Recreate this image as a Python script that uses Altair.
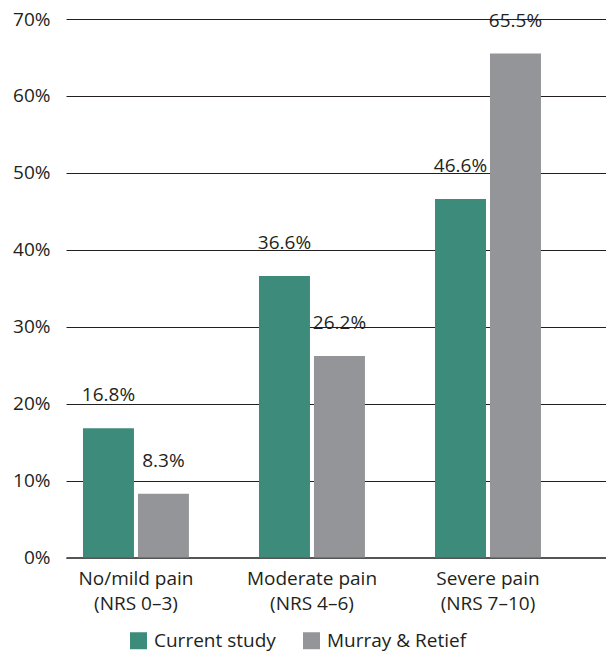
import altair as alt
import pandas as pd

# Pain-severity groups (two-line axis labels split on "|")
categories = ["No/mild pain|(NRS 0–3)", "Moderate pain|(NRS 4–6)", "Severe pain|(NRS 7–10)"]
series = ["Current study", "Murray & Retief"]
current_study = [16.8, 36.6, 46.6]
murray_retief = [8.3, 26.2, 65.5]
y_ticks = [0, 10, 20, 30, 40, 50, 60, 70]

colors = ["#3d8b7a", "#939598"]
font = "Open Sans"
ink = "#231f20"

rows = []
for cat, a, b in zip(categories, current_study, murray_retief):
    rows.append({"group": cat, "series": series[0], "value": a})
    rows.append({"group": cat, "series": series[1], "value": b})
df = pd.DataFrame(rows)

x_enc = alt.X(
    "group:N",
    sort=categories,
    scale=alt.Scale(paddingInner=0.398, paddingOuter=0.233, align=0.207),
    axis=alt.Axis(
        title=None,
        labelExpr="split(datum.label, '|')",
        labelAngle=0,
        labelFont=font,
        labelFontSize=19,
        labelColor=ink,
        labelLineHeight=25,
        labelPadding=12,
        ticks=False,
        domain=True,
        domainColor="#555555",
        domainWidth=2,
        grid=False,
    ),
)
xoff_enc = alt.XOffset(
    "series:N",
    sort=series,
    scale=alt.Scale(paddingInner=0.0727, paddingOuter=0),
)
y_enc = alt.Y(
    "value:Q",
    scale=alt.Scale(domain=[0, 70], nice=False),
    axis=alt.Axis(
        title=None,
        values=y_ticks,
        labelExpr="datum.value + '%'",
        labelFont=font,
        labelFontSize=19,
        labelColor=ink,
        labelPadding=16,
        ticks=False,
        domain=False,
        grid=True,
        gridColor=ink,
        gridWidth=1.2,
    ),
)

bars = alt.Chart(df).mark_bar().encode(
    x=x_enc,
    xOffset=xoff_enc,
    y=y_enc,
    color=alt.Color(
        "series:N",
        sort=series,
        scale=alt.Scale(domain=series, range=colors),
        legend=alt.Legend(
            title=None,
            orient="none",
            direction="horizontal",
            legendX=63,
            legendY=612,
            padding=0,
            symbolType="square",
            symbolSize=289,
            symbolStrokeWidth=0,
            symbolOpacity=1,
            labelFont=font,
            labelFontSize=19,
            labelColor=ink,
            labelOffset=6,
            columnPadding=26,
        ),
    ),
)

labels = (
    alt.Chart(df)
    .transform_calculate(label="format(datum.value, '.1f') + '%'")
    .mark_text(baseline="alphabetic", dy=-27, font=font, fontSize=19, color=ink)
    .encode(x=x_enc, xOffset=xoff_enc, y=y_enc, text="label:N")
)

chart = (
    alt.layer(bars, labels)
    .properties(
        width=540,
        height=538.5,
        padding={"left": 66, "top": 19, "right": 0, "bottom": 95},
        autosize=alt.AutoSizeParams(type="none"),
    )
    .configure_view(stroke=None)
)

chart.save("out.html", embed_options={"renderer": "svg", "actions": False})
